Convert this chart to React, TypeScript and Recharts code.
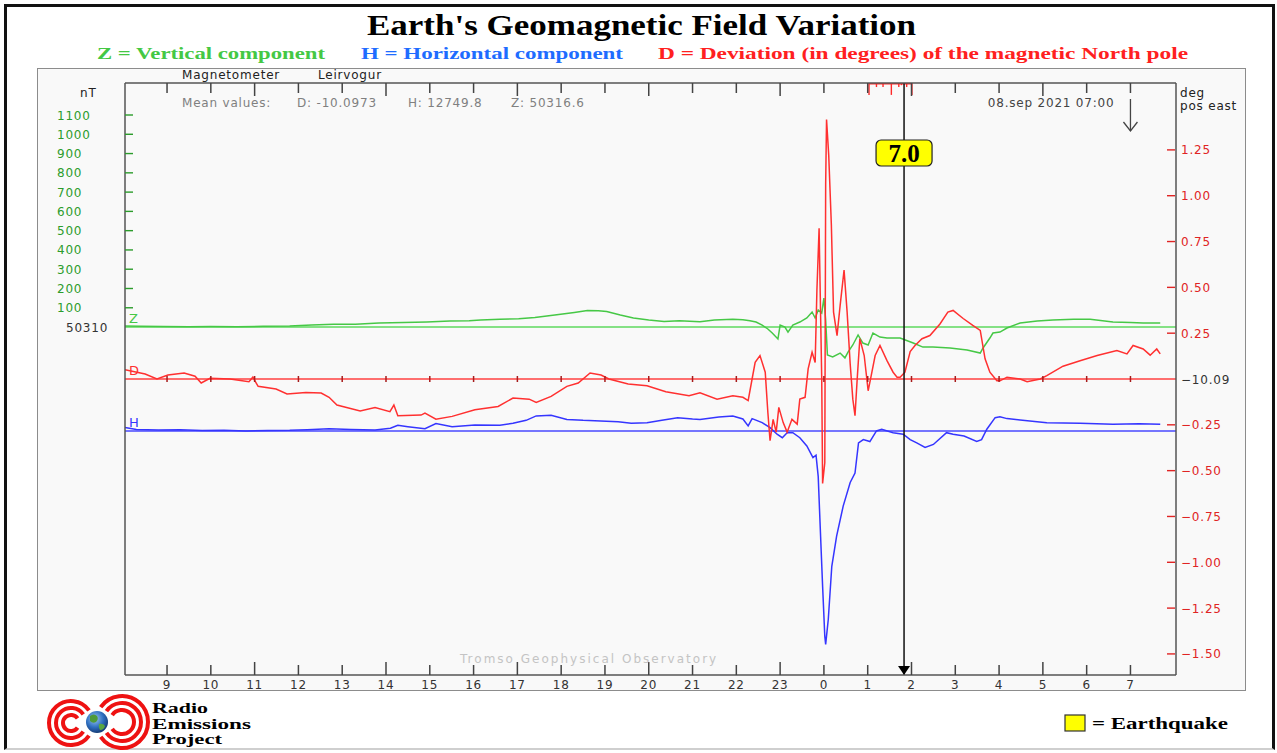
import React from 'react';
import { ComposedChart, Line, Scatter, XAxis, YAxis, ReferenceLine } from 'recharts';

// time axis: hours after 08:00 UT, 7 Sep 2021 (t = 1 -> 09:00 ... t = 23 -> 07:00 next day)
const hourTicks = [1, 2, 3, 4, 5, 6, 7, 8, 9, 10, 11, 12, 13, 14, 15, 16, 17, 18, 19, 20, 21, 22, 23];
const zTicks = [0, 100, 200, 300, 400, 500, 600, 700, 800, 900, 1000, 1100];
const hTicks = [0, -100, -200, -300, -400, -500, -600, -700, -800];
const dTicks = [-1.5, -1.25, -1, -0.75, -0.5, -0.25, 0, 0.25, 0.5, 0.75, 1, 1.25];

// baselines the traces are drawn against
const zBaseline = 50310;
const hBaseline = 12750;
const dBaseline = -10.09;
const meanD = -10.0973;
const meanH = 12749.8;
const meanZ = 50316.6;

const quakeTime = 17.83;
const quakeMagnitude = 7.0;
const stampTime = 23;
const stampLabel = '08.sep 2021 07:00';

// Z: vertical component, nT above/below 50310
const zTrace: [number, number][] = [
  [0.04, 5], [0.4, 4], [0.9, 3], [1.5, 2], [2.0, 3], [2.6, 2], [3.2, 4], [3.8, 5], [4.3, 10], [4.8, 14],
  [5.3, 15], [5.84, 21], [6.4, 23], [6.93, 26], [7.46, 31], [7.9, 33], [8.16, 36], [8.6, 40], [9.03, 43],
  [9.4, 50], [9.9, 64], [10.3, 76], [10.6, 86], [10.85, 85], [11.04, 81], [11.35, 62], [11.65, 47],
  [12.0, 36], [12.35, 29], [12.7, 33], [13.17, 27], [13.5, 36], [13.92, 41], [14.15, 38], [14.31, 33],
  [14.45, 26], [14.59, 10], [14.72, -10], [14.82, -31], [14.95, -62], [15.0, 10], [15.11, 0], [15.18, -26],
  [15.29, 10], [15.45, 26], [15.61, 47], [15.73, 78], [15.8, 47], [15.87, 88], [15.95, 73], [16.0, 150],
  [16.04, 36], [16.08, -145], [16.2, -155], [16.37, -135], [16.48, -160], [16.55, -130], [16.66, -93],
  [16.78, -41], [16.89, -83], [17.01, -93], [17.12, -31], [17.28, -52], [17.44, -57], [17.74, -57],
  [18.04, -83], [18.26, -104], [18.49, -104], [18.88, -109], [19.27, -119], [19.57, -135], [19.63, -110],
  [19.79, -57], [19.86, -31], [20.02, -26], [20.18, -5], [20.48, 21], [20.87, 31], [21.23, 36], [21.7, 40],
  [22.08, 41], [22.6, 26], [23.0, 24], [23.29, 21], [23.68, 21],
];

// H: horizontal component, nT above/below 12750
const hTrace: [number, number][] = [
  [0.04, 18], [0.3, 8], [0.8, 5], [1.3, 6], [1.8, 2], [2.3, 3], [2.8, 0], [3.3, 2], [3.8, 3], [4.2, 6],
  [4.7, 12], [5.2, 8], [5.75, 5], [6.1, 14], [6.27, 29], [6.5, 22], [6.89, 12], [7.14, 38], [7.51, 22],
  [8.03, 31], [8.6, 30], [8.9, 40], [9.2, 55], [9.43, 78], [9.77, 81], [10.13, 60], [10.5, 55], [10.9, 52],
  [11.3, 48], [11.6, 40], [11.96, 43], [12.3, 55], [12.66, 69], [13.0, 62], [13.17, 60], [13.6, 72],
  [13.92, 78], [14.15, 62], [14.27, 26], [14.36, 64], [14.59, 43], [14.77, 17], [14.93, -17], [15.05, -35],
  [15.16, -9], [15.29, -9], [15.45, -35], [15.61, -78], [15.75, -138], [15.82, -126], [15.87, -237],
  [15.9, -410], [15.93, -580], [15.97, -805], [16.02, -1065], [16.04, -1107], [16.1, -977], [16.18, -702],
  [16.29, -546], [16.44, -390], [16.6, -267], [16.71, -218], [16.79, -62], [16.9, -45], [17.05, -55],
  [17.2, 0], [17.32, 9], [17.58, -9], [17.81, -17], [17.97, -45], [18.12, -62], [18.31, -86], [18.5, -70],
  [18.8, -9], [18.95, -17], [19.2, -26], [19.49, -55], [19.6, -45], [19.72, 9], [19.91, 69], [20.02, 74],
  [20.18, 64], [20.48, 57], [21.09, 43], [21.85, 40], [22.6, 35], [23.2, 37], [23.68, 35],
];

// D: declination, degrees east of -10.09
const dTrace: [number, number][] = [
  [0.04, 0.051], [0.5, 0.027], [0.77, 0], [1.02, 0.022], [1.39, 0.033], [1.64, 0.015], [1.78, -0.022],
  [1.98, 0.004], [2.44, 0], [2.87, -0.015], [2.96, 0.01], [3.08, -0.04], [3.49, -0.055], [3.74, -0.082],
  [4.17, -0.073], [4.52, -0.077], [4.7, -0.1], [4.88, -0.142], [5.41, -0.174], [5.75, -0.155],
  [6.09, -0.178], [6.18, -0.142], [6.27, -0.2], [6.8, -0.197], [6.89, -0.186], [7.14, -0.219],
  [7.51, -0.204], [8.03, -0.168], [8.56, -0.15], [8.9, -0.104], [9.27, -0.11], [9.43, -0.128],
  [9.77, -0.095], [10.13, -0.04], [10.39, -0.022], [10.66, 0.033], [10.91, 0.022], [11.09, 0],
  [11.53, -0.027], [11.96, -0.037], [12.39, -0.07], [12.92, -0.091], [13.17, -0.075], [13.56, -0.11],
  [13.92, -0.091], [14.15, -0.1], [14.27, -0.118], [14.36, 0], [14.43, 0.091], [14.54, 0.128],
  [14.66, 0.037], [14.72, -0.183], [14.77, -0.337], [14.84, -0.22], [14.91, -0.29], [14.97, -0.155],
  [15.07, -0.238], [15.16, -0.29], [15.27, -0.22], [15.39, -0.246], [15.45, -0.11], [15.57, -0.1],
  [15.64, 0.055], [15.73, 0.146], [15.8, 0.09], [15.84, 0.484], [15.89, 0.822], [15.93, 0.274],
  [15.95, 0], [15.97, -0.57], [16.02, -0.457], [16.04, 1.06], [16.06, 1.416], [16.11, 1.22],
  [16.17, 0.84], [16.22, 0.365], [16.3, 0.237], [16.37, 0.4], [16.46, 0.594], [16.53, 0.365],
  [16.6, 0.082], [16.66, -0.11], [16.71, -0.2], [16.76, 0], [16.82, 0.22], [16.92, 0.128],
  [17.01, -0.064], [17.08, 0.018], [17.17, 0.128], [17.28, 0.183], [17.44, 0.1], [17.58, 0.037],
  [17.67, 0.01], [17.74, 0.01], [17.85, 0.037], [17.97, 0.15], [18.08, 0.183], [18.24, 0.22],
  [18.42, 0.237], [18.65, 0.3], [18.83, 0.365], [18.95, 0.374], [19.18, 0.33], [19.4, 0.292],
  [19.57, 0.265], [19.68, 0.11], [19.79, 0.037], [19.95, -0.01], [20.02, -0.01], [20.18, 0.01],
  [20.48, 0], [20.64, -0.015], [20.94, 0], [21.09, 0.018], [21.46, 0.07], [21.85, 0.1], [22.24, 0.128],
  [22.69, 0.155], [22.92, 0.137], [23.06, 0.183], [23.29, 0.164], [23.45, 0.13], [23.6, 0.164],
  [23.68, 0.137],
];

// short red flags hanging from the top edge: [time, depth in degrees]
const topMarks: [number, number][] = [
  [17.03, 0.065], [17.2, 0.022], [17.35, 0.022], [17.54, 0.065], [17.71, 0.022], [17.77, 0.012],
  [17.89, 0.022], [18.01, 0.065],
];

const X_DOMAIN: [number, number] = [0.04, 24.04];
const Z_DOMAIN: [number, number] = [-1805, 1266];
const H_DOMAIN: [number, number] = [-1266, 1805];
const D_TOP = 1.615;
const D_DOMAIN: [number, number] = [-D_TOP, D_TOP];

const Z_COLOR = '#46c846';
const H_COLOR = '#3535ff';
const D_COLOR = '#ff3030';
const Z_LABEL = '#2c9c2c';
const H_LABEL = '#2a2ad8';
const D_LABEL = '#e02424';

const small = { fontFamily: 'DejaVu Sans', fontSize: 12, letterSpacing: 0.8 };
const serif = { fontFamily: 'Liberation Serif', fontWeight: 'bold' as const };

const toPoints = (arr: [number, number][]) => arr.map(([t, v]) => ({ t, v }));
const signed = (v: number, digits = 0) => (v < 0 ? '\u2212' : '') + Math.abs(v).toFixed(digits);
const hourLabel = (t: number) => String((t + 8) % 24);
const isLongTick = (t: number) => (t + 8) % 3 === 2;

const ZTick = ({ x, y, payload }: any) => {
  const v = payload.value as number;
  if (v === 0) {
    return <text x={x - 59} y={y + 4.5} {...small} fill="#333">{zBaseline}</text>;
  }
  return (
    <g>
      <line x1={x} x2={x + 8} y1={y} y2={y} stroke={Z_LABEL} strokeWidth={1.4} />
      <text x={x - 68} y={y + 4.5} {...small} fill={Z_LABEL}>{v}</text>
    </g>
  );
};

const HTick = ({ x, y, payload }: any) => {
  const v = payload.value as number;
  if (v === 0) {
    return <text x={x - 59} y={y + 4.5} {...small} fill="#333">{hBaseline}</text>;
  }
  return (
    <g>
      <line x1={x} x2={x + 8} y1={y} y2={y} stroke={H_LABEL} strokeWidth={1.4} />
      <text x={x - 68} y={y + 4.5} {...small} fill={H_LABEL}>{signed(v)}</text>
    </g>
  );
};

const DTick = ({ x, y, payload }: any) => {
  const v = payload.value as number;
  if (v === 0) {
    return <text x={x + 5} y={y + 4.5} {...small} fill="#333">{signed(dBaseline, 2)}</text>;
  }
  return (
    <g>
      <line x1={x - 9} x2={x - 1} y1={y} y2={y} stroke={D_LABEL} strokeWidth={1.4} />
      <text x={x + 5} y={y + 4.5} {...small} fill={D_LABEL}>{signed(v, 2)}</text>
    </g>
  );
};

const BottomTick = ({ x, y, payload }: any) => {
  const t = payload.value as number;
  const len = isLongTick(t) ? 13 : 10;
  return (
    <g>
      <line x1={x} x2={x} y1={y} y2={y - len} stroke="#444" strokeWidth={1.5} />
      <text x={x} y={y + 13.5} textAnchor="middle" {...small} fill="#333">{hourLabel(t)}</text>
    </g>
  );
};

const TopTick = ({ x, y, payload }: any) => {
  const t = payload.value as number;
  const len = isLongTick(t) ? 13 : 10;
  return <line x1={x} x2={x} y1={y} y2={y + len} stroke="#444" strokeWidth={1.5} />;
};

const QuakeBadge = ({ viewBox }: any) => {
  const { x, y, height } = viewBox;
  const bottom = y + height;
  return (
    <g>
      <rect x={x - 28} y={y + 57} width={56} height={26} rx={5} fill="#ffff00" stroke="#222" strokeWidth={1.2} />
      <text x={x} y={y + 79} textAnchor="middle" {...serif} fontSize={25} fill="#000">
        {quakeMagnitude.toFixed(1)}
      </text>
      <polygon points={`${x - 6},${bottom - 9} ${x + 6},${bottom - 9} ${x},${bottom}`} fill="#000" />
    </g>
  );
};

const StampArrow = (p: any) => {
  const x = p.x1;
  const top = Math.min(p.y1, p.y2);
  return (
    <g>
      <text x={x - 16} y={top + 24} textAnchor="end" {...small} fill="#444">{stampLabel}</text>
      <line x1={x} x2={x} y1={top + 16} y2={top + 48} stroke="#444" strokeWidth={1.3} />
      <polyline
        points={`${x - 7},${top + 39} ${x},${top + 48} ${x + 7},${top + 39}`}
        fill="none"
        stroke="#444"
        strokeWidth={1.3}
      />
    </g>
  );
};

const arc = (cx: number, cy: number, r: number, a0: number, a1: number) => {
  const rad = Math.PI / 180;
  const sx = cx + r * Math.cos(a0 * rad);
  const sy = cy + r * Math.sin(a0 * rad);
  const ex = cx + r * Math.cos(a1 * rad);
  const ey = cy + r * Math.sin(a1 * rad);
  return `M ${sx} ${sy} A ${r} ${r} 0 1 1 ${ex} ${ey}`;
};

const Logo = () => (
  <g>
    <g fill="none" stroke="#ee1212" strokeWidth={4}>
      {[22, 15, 8].map((r) => <path key={`l${r}`} d={arc(71, 723, r, 35, 325)} />)}
      {[26, 19, 12].map((r) => <path key={`r${r}`} d={arc(122, 722, r, 215, 505)} />)}
    </g>
    <defs>
      <radialGradient id="globe" cx="40%" cy="35%" r="65%">
        <stop offset="0%" stopColor="#9cc8f0" />
        <stop offset="60%" stopColor="#2f6fc0" />
        <stop offset="100%" stopColor="#173d78" />
      </radialGradient>
    </defs>
    <circle cx={97} cy={722} r={11} fill="url(#globe)" />
    <path d="M 90 716 q 4 -3 7 0 q 2 3 -1 6 q -3 2 -6 -1 z" fill="#4f9a3a" />
    <path d="M 99 724 q 4 -1 6 2 q -1 4 -5 4 q -2 -3 -1 -6 z" fill="#5aa640" />
    <text x={152} y={713} {...serif} fontSize={14.5} textLength={56} lengthAdjust="spacingAndGlyphs">Radio</text>
    <text x={152} y={728.5} {...serif} fontSize={14.5} textLength={99} lengthAdjust="spacingAndGlyphs">Emissions</text>
    <text x={152} y={744} {...serif} fontSize={14.5} textLength={70} lengthAdjust="spacingAndGlyphs">Project</text>
  </g>
);

const Decorations = () => (
  <svg width={1277} height={753} style={{ position: 'absolute', left: 0, top: 0, pointerEvents: 'none' }}>
    <text x={367} y={35} {...serif} fontSize={30} textLength={549} lengthAdjust="spacingAndGlyphs" fill="#000">
      Earth's Geomagnetic Field Variation
    </text>
    <text x={97} y={59} {...serif} fontSize={17} textLength={228} lengthAdjust="spacingAndGlyphs" fill="#44c844">
      Z = Vertical component
    </text>
    <text x={361} y={59} {...serif} fontSize={17} textLength={262} lengthAdjust="spacingAndGlyphs" fill="#1e6cff">
      H = Horizontal component
    </text>
    <text x={658} y={59} {...serif} fontSize={17} textLength={530} lengthAdjust="spacingAndGlyphs" fill="#ff2020">
      D = Deviation (in degrees) of the magnetic North pole
    </text>

    <text x={182} y={79} {...small} fill="#222">Magnetometer</text>
    <text x={318} y={79} {...small} fill="#222">Leirvogur</text>
    <text x={80} y={97} {...small} fill="#222">nT</text>
    <text x={1180} y={97} {...small} fill="#222">deg</text>
    <text x={1180} y={110} {...small} fill="#222">pos east</text>

    <text x={182} y={107} {...small} fill="#808080">Mean values:</text>
    <text x={297} y={107} {...small} fill="#808080">{`D: ${meanD}`}</text>
    <text x={408} y={107} {...small} fill="#808080">{`H: ${meanH}`}</text>
    <text x={511} y={107} {...small} fill="#808080">{`Z: ${meanZ}`}</text>

    <text x={460} y={663} {...small} fill="#c4c4c4" textLength={257} lengthAdjust="spacing">
      Tromso Geophysical Observatory
    </text>

    <Logo />

    <rect x={1065} y={715} width={20} height={16} fill="#ffff00" stroke="#333" strokeWidth={1.2} />
    <text x={1092} y={729} {...serif} fontSize={17} textLength={136} lengthAdjust="spacingAndGlyphs" fill="#000">
      = Earthquake
    </text>
  </svg>
);

const GeomagneticChart = () => (
  <ComposedChart width={1207} height={630} margin={{ top: 0, right: 0, bottom: 9, left: 0 }}>
    <XAxis
      xAxisId="b"
      dataKey="t"
      type="number"
      domain={X_DOMAIN}
      allowDataOverflow
      ticks={hourTicks}
      interval={0}
      height={15}
      tickSize={0}
      tickMargin={0}
      tick={(p: any) => <BottomTick {...p} />}
      axisLine={{ stroke: '#555', strokeWidth: 1.5 }}
    />
    <XAxis
      xAxisId="t"
      orientation="top"
      dataKey="t"
      type="number"
      domain={X_DOMAIN}
      allowDataOverflow
      ticks={hourTicks}
      interval={0}
      height={14}
      tickSize={0}
      tickMargin={0}
      tick={(p: any) => <TopTick {...p} />}
      axisLine={{ stroke: '#555', strokeWidth: 1.5 }}
    />
    <YAxis
      yAxisId="h"
      dataKey="v"
      type="number"
      domain={H_DOMAIN}
      allowDataOverflow
      ticks={hTicks}
      interval={0}
      mirror
      width={0}
      tickSize={0}
      tickMargin={0}
      axisLine={false}
      tick={(p: any) => <HTick {...p} />}
    />
    <YAxis
      yAxisId="z"
      dataKey="v"
      type="number"
      domain={Z_DOMAIN}
      allowDataOverflow
      ticks={zTicks}
      interval={0}
      width={87}
      tickSize={0}
      tickMargin={0}
      axisLine={{ stroke: '#555', strokeWidth: 1.5 }}
      tick={(p: any) => <ZTick {...p} />}
    />
    <YAxis
      yAxisId="d"
      orientation="right"
      dataKey="v"
      type="number"
      domain={D_DOMAIN}
      allowDataOverflow
      ticks={dTicks}
      interval={0}
      width={69}
      tickSize={0}
      tickMargin={0}
      axisLine={{ stroke: '#555', strokeWidth: 1.5 }}
      tick={(p: any) => <DTick {...p} />}
    />

    <ReferenceLine
      xAxisId="b"
      yAxisId="z"
      y={0}
      stroke="#5ed85e"
      strokeWidth={1.6}
      label={{ value: 'Z', position: 'insideBottomLeft', offset: 4, fill: Z_COLOR, fontSize: 13, fontFamily: 'DejaVu Sans' }}
    />
    <ReferenceLine
      xAxisId="b"
      yAxisId="d"
      y={0}
      stroke="#ff4040"
      strokeWidth={1.6}
      label={{ value: 'D', position: 'insideBottomLeft', offset: 4, fill: D_COLOR, fontSize: 13, fontFamily: 'DejaVu Sans' }}
    />
    <ReferenceLine
      xAxisId="b"
      yAxisId="h"
      y={0}
      stroke="#4848ff"
      strokeWidth={1.6}
      label={{ value: 'H', position: 'insideBottomLeft', offset: 4, fill: H_COLOR, fontSize: 13, fontFamily: 'DejaVu Sans' }}
    />

    <Scatter
      xAxisId="b"
      yAxisId="d"
      data={hourTicks.map((t) => ({ t, v: 0 }))}
      dataKey="v"
      isAnimationActive={false}
      shape={(p: any) => (
        <line x1={p.cx} x2={p.cx} y1={p.cy - 3} y2={p.cy + 3} stroke="#a81c1c" strokeWidth={1.5} />
      )}
    />

    <Line xAxisId="b" yAxisId="z" data={toPoints(zTrace)} dataKey="v" type="linear" stroke={Z_COLOR}
      strokeWidth={1.5} dot={false} isAnimationActive={false} />
    <Line xAxisId="b" yAxisId="h" data={toPoints(hTrace)} dataKey="v" type="linear" stroke={H_COLOR}
      strokeWidth={1.5} dot={false} isAnimationActive={false} />
    <Line xAxisId="b" yAxisId="d" data={toPoints(dTrace)} dataKey="v" type="linear" stroke={D_COLOR}
      strokeWidth={1.5} dot={false} isAnimationActive={false} />

    <ReferenceLine
      xAxisId="b"
      yAxisId="d"
      segment={[{ x: topMarks[0][0], y: D_TOP - 0.004 }, { x: topMarks[topMarks.length - 1][0], y: D_TOP - 0.004 }]}
      stroke="#ff2a2a"
      strokeWidth={1.5}
      ifOverflow="visible"
    />
    {topMarks.map(([t, depth]) => (
      <ReferenceLine
        key={t}
        xAxisId="b"
        yAxisId="d"
        segment={[{ x: t, y: D_TOP }, { x: t, y: D_TOP - depth }]}
        stroke="#ff2a2a"
        strokeWidth={1.4}
        ifOverflow="visible"
      />
    ))}

    <ReferenceLine
      xAxisId="b"
      yAxisId="d"
      x={quakeTime}
      stroke="#111"
      strokeWidth={1.5}
      label={(p: any) => <QuakeBadge viewBox={p.viewBox} />}
    />
    <ReferenceLine xAxisId="b" yAxisId="d" x={stampTime} stroke="none" shape={(p: any) => <StampArrow {...p} />} />
  </ComposedChart>
);

export default function App() {
  return (
    <div style={{ position: 'relative', width: 1277, height: 753, background: '#fff', overflow: 'hidden' }}>
      <style>{'body { margin: 0; }'}</style>
      <div
        style={{
          position: 'absolute',
          left: 4,
          top: 4,
          width: 1271,
          height: 746,
          boxSizing: 'border-box',
          borderTop: '3px solid #111',
          borderLeft: '3px solid #111',
          borderRight: '3px solid #111',
          borderBottom: '2px solid #cfcfcf',
        }}
      />
      <div
        style={{
          position: 'absolute',
          left: 37,
          top: 68,
          width: 1209,
          height: 623,
          boxSizing: 'border-box',
          border: '1.5px solid #8c8c8c',
          background: '#f9f9f9',
        }}
      />
      <div style={{ position: 'absolute', left: 38, top: 69, width: 1207, height: 630 }}>
        <GeomagneticChart />
      </div>
      <Decorations />
    </div>
  );
}
